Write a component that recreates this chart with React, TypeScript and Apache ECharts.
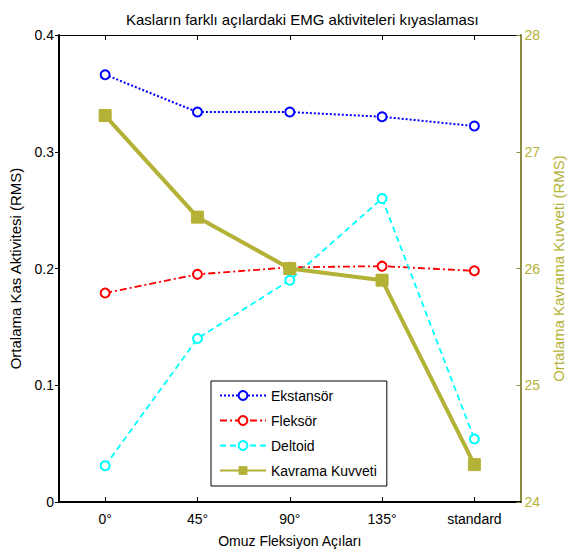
import React, { useEffect, useRef } from "react";
import * as echarts from "echarts";

const categories = ["0°", "45°", "90°", "135°", "standard"];
const ekstansor = [0.366, 0.334, 0.334, 0.33, 0.322];
const fleksor = [0.179, 0.195, 0.201, 0.202, 0.198];
const deltoid = [0.031, 0.14, 0.19, 0.26, 0.054];
const kavrama = [27.31, 26.44, 26.0, 25.9, 24.32];

const FONT = "'Liberation Sans', Arial, sans-serif";
const OLIVE = "#b4b236";
const OLIVE_AXIS = "#8b8b45";

export default function App() {
  const ref = useRef<HTMLDivElement>(null);
  useEffect(() => {
    document.body.style.margin = "0";
    const chart = echarts.init(ref.current!, null, { renderer: "svg" });
    chart.setOption({
      animation: false,
      backgroundColor: "#ffffff",
      textStyle: { fontFamily: FONT },
      title: {
        text: "Kasların farklı açılardaki EMG aktiviteleri kıyaslaması",
        left: 121,
        top: 7,
        textStyle: { fontFamily: FONT, fontSize: 15, fontWeight: "normal", color: "#000" },
      },
      grid: { left: 57, right: 45, top: 35, bottom: 54 },
      legend: {
        orient: "vertical",
        left: 211,
        top: 381,
        width: 175,
        backgroundColor: "#fff",
        borderColor: "#000",
        borderWidth: 1,
        padding: [7, 10, 8, 8],
        itemGap: 10,
        itemWidth: 46,
        itemHeight: 11,
        textStyle: { fontFamily: FONT, fontSize: 14, color: "#000", lineHeight: 15 },
        data: ["Ekstansör", "Fleksör", "Deltoid", "Kavrama Kuvveti"],
      },
      xAxis: [
        {
          type: "category",
          data: categories,
          position: "bottom",
          boundaryGap: true,
          name: "Omuz Fleksiyon Açıları",
          nameLocation: "middle",
          nameGap: 32,
          nameTextStyle: { fontFamily: FONT, fontSize: 14, color: "#000" },
          axisLine: { show: true, lineStyle: { color: "#000", width: 2 } },
          axisTick: { show: true, inside: true, alignWithLabel: true, length: 5, lineStyle: { color: "#000" } },
          axisLabel: { fontFamily: FONT, fontSize: 14, color: "#000", margin: 10 },
          splitLine: { show: false },
        },
        {
          type: "category",
          data: categories,
          position: "top",
          boundaryGap: true,
          axisLine: { show: true, lineStyle: { color: "#000", width: 1 } },
          axisTick: { show: true, inside: true, alignWithLabel: true, length: 5, lineStyle: { color: "#000" } },
          axisLabel: { show: false },
          splitLine: { show: false },
        },
      ],
      yAxis: [
        {
          type: "value",
          min: 0,
          max: 0.4,
          interval: 0.1,
          position: "left",
          name: "Ortalama Kas Aktivitesi (RMS)",
          nameLocation: "middle",
          nameRotate: 90,
          nameGap: 36,
          nameTextStyle: { fontFamily: FONT, fontSize: 15, color: "#000" },
          axisLine: { show: true, lineStyle: { color: "#000", width: 2 } },
          axisTick: { show: true, inside: false, length: 4, lineStyle: { color: "#000" } },
          axisLabel: {
            fontFamily: FONT,
            fontSize: 14,
            color: "#000",
            margin: 5,
            formatter: (v: number) => (v === 0 ? "0" : v.toFixed(1)),
          },
          splitLine: { show: false },
        },
        {
          type: "value",
          min: 24,
          max: 28,
          interval: 1,
          position: "right",
          name: "Ortalama Kavrama Kuvveti (RMS)",
          nameLocation: "middle",
          nameRotate: 90,
          nameGap: 23,
          nameTextStyle: { fontFamily: FONT, fontSize: 15, color: OLIVE },
          axisLine: { show: true, lineStyle: { color: OLIVE_AXIS, width: 2 } },
          axisTick: { show: true, inside: true, length: 4, lineStyle: { color: OLIVE_AXIS } },
          axisLabel: { fontFamily: FONT, fontSize: 14, color: OLIVE, margin: 4 },
          splitLine: { show: false },
        },
      ],
      series: [
        {
          name: "Ekstansör",
          type: "line",
          data: ekstansor,
          symbol: "emptyCircle",
          symbolSize: 9,
          lineStyle: { color: "#0000ff", width: 2, type: [2, 2] },
          itemStyle: { color: "#0000ff", borderColor: "#0000ff", borderWidth: 2 },
        },
        {
          name: "Fleksör",
          type: "line",
          data: fleksor,
          symbol: "emptyCircle",
          symbolSize: 9,
          lineStyle: { color: "#ff0000", width: 1.8, type: [7, 3, 2, 3] },
          itemStyle: { color: "#ff0000", borderColor: "#ff0000", borderWidth: 2 },
        },
        {
          name: "Deltoid",
          type: "line",
          data: deltoid,
          symbol: "emptyCircle",
          symbolSize: 9,
          lineStyle: { color: "#00ffff", width: 1.8, type: [6, 4] },
          itemStyle: { color: "#00ffff", borderColor: "#00ffff", borderWidth: 2 },
        },
        {
          name: "Kavrama Kuvveti",
          type: "line",
          yAxisIndex: 1,
          data: kavrama,
          symbol: "rect",
          symbolSize: 12,
          lineStyle: { color: OLIVE, width: 4 },
          itemStyle: { color: OLIVE, borderColor: OLIVE },
        },
      ],
    });
    return () => chart.dispose();
  }, []);
  return <div ref={ref} style={{ width: 574, height: 556 }} />;
}
